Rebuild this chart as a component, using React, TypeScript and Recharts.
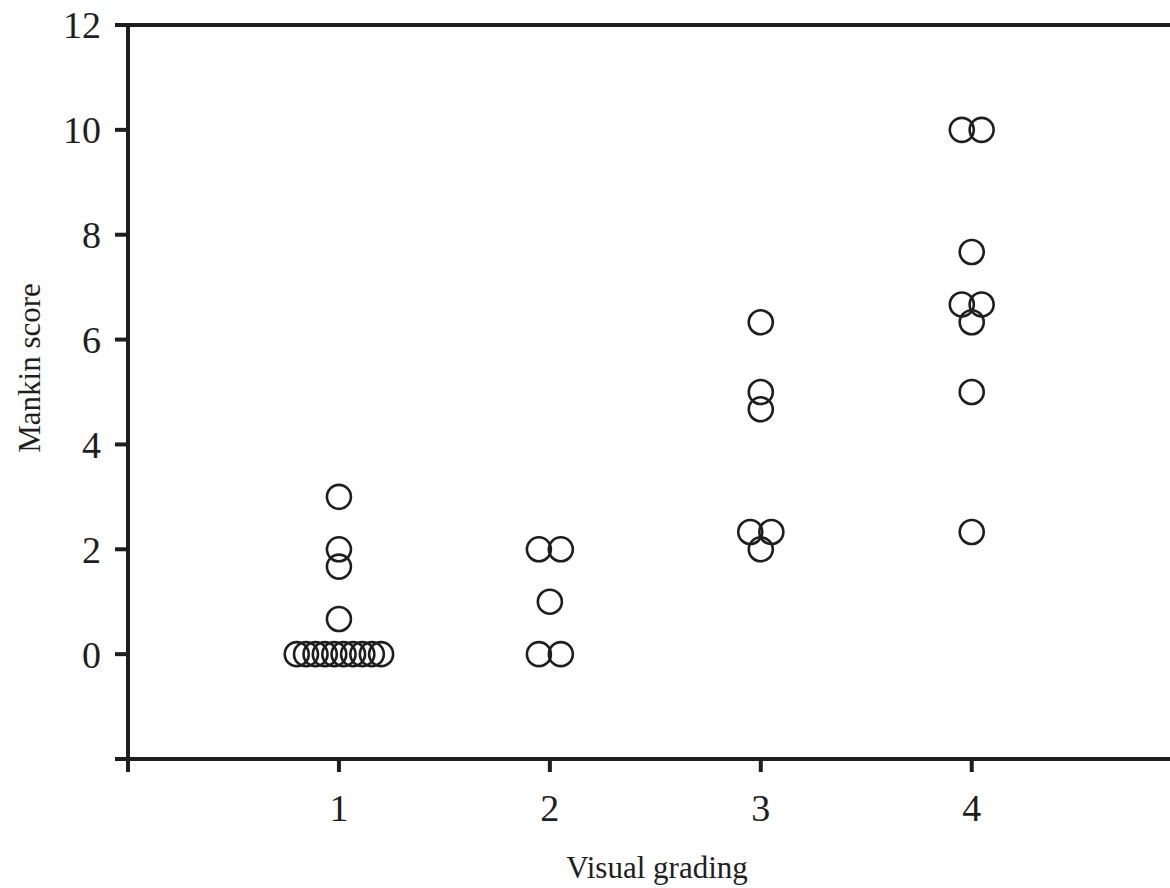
import React from 'react';
import { ScatterChart, Scatter, XAxis, YAxis, ReferenceLine, Label } from 'recharts';

// visual grade (with the small sideways offsets used to separate equal points)
const grade1X = [1, 1, 1, 1, 0.8, 0.844, 0.889, 0.933, 0.978, 1.022, 1.067, 1.111, 1.156, 1.2];
const grade1Y = [3, 2, 1.67, 0.67, 0, 0, 0, 0, 0, 0, 0, 0, 0, 0];
const grade2X = [1.948, 2.052, 2, 1.948, 2.052];
const grade2Y = [2, 2, 1, 0, 0];
const grade3X = [3, 3, 3, 2.95, 3.05, 3];
const grade3Y = [6.33, 5, 4.67, 2.33, 2.33, 2];
const grade4X = [3.953, 4.047, 4, 3.953, 4.047, 4, 4, 4];
const grade4Y = [10, 10, 7.67, 6.67, 6.67, 6.33, 5, 2.33];

const xTicks = [0, 1, 2, 3, 4];
const yTicks = [-2, 0, 2, 4, 6, 8, 10, 12];

const points = [
  ...grade1X.map((x, i) => ({ x, y: grade1Y[i] })),
  ...grade2X.map((x, i) => ({ x, y: grade2Y[i] })),
  ...grade3X.map((x, i) => ({ x, y: grade3Y[i] })),
  ...grade4X.map((x, i) => ({ x, y: grade4Y[i] })),
];

const ink = '#1e1e1e';
const font = '"Liberation Serif", "Times New Roman", serif';

const OpenCircle = (props: any) => {
  const { cx, cy } = props;
  if (cx == null || cy == null) return null;
  return <circle cx={cx} cy={cy} r={12} fill="none" stroke={ink} strokeWidth={2.6} />;
};

const App: React.FC = () => {
  return (
    <div style={{ position: 'absolute', left: 0, top: 0, background: '#fff' }}>
      <ScatterChart
        width={1170}
        height={888}
        margin={{ top: 25, right: 0, bottom: 0, left: 0 }}
      >
        <XAxis
          type="number"
          dataKey="x"
          domain={[0, 4.94]}
          ticks={xTicks}
          tickFormatter={(v: number) => (v === 0 ? '' : String(v))}
          height={129}
          stroke={ink}
          strokeWidth={4}
          tickSize={13}
          tickMargin={22}
          tick={{ fill: ink, fontSize: 38, fontFamily: font }}
          allowDataOverflow
        >
          <Label
            content={() => (
              <text x={657} y={878} textAnchor="middle" fill={ink} fontSize={31} fontFamily={font}>
                Visual grading
              </text>
            )}
          />
        </XAxis>
        <YAxis
          type="number"
          dataKey="y"
          domain={[-2, 12]}
          ticks={yTicks}
          tickFormatter={(v: number) => (v === -2 ? '' : String(v))}
          width={128}
          stroke={ink}
          strokeWidth={4}
          tickSize={13}
          tickMargin={14}
          tick={{ fill: ink, fontSize: 38, fontFamily: font }}
          allowDataOverflow
        >
          <Label
            content={() => (
              <text
                x={40}
                y={368}
                transform="rotate(-90 40 368)"
                textAnchor="middle"
                fill={ink}
                fontSize={31}
                fontFamily={font}
              >
                Mankin score
              </text>
            )}
          />
        </YAxis>
        <ReferenceLine y={12} stroke={ink} strokeWidth={4} />
        <Scatter data={points} shape={OpenCircle} isAnimationActive={false} />
      </ScatterChart>
    </div>
  );
};

export default App;
